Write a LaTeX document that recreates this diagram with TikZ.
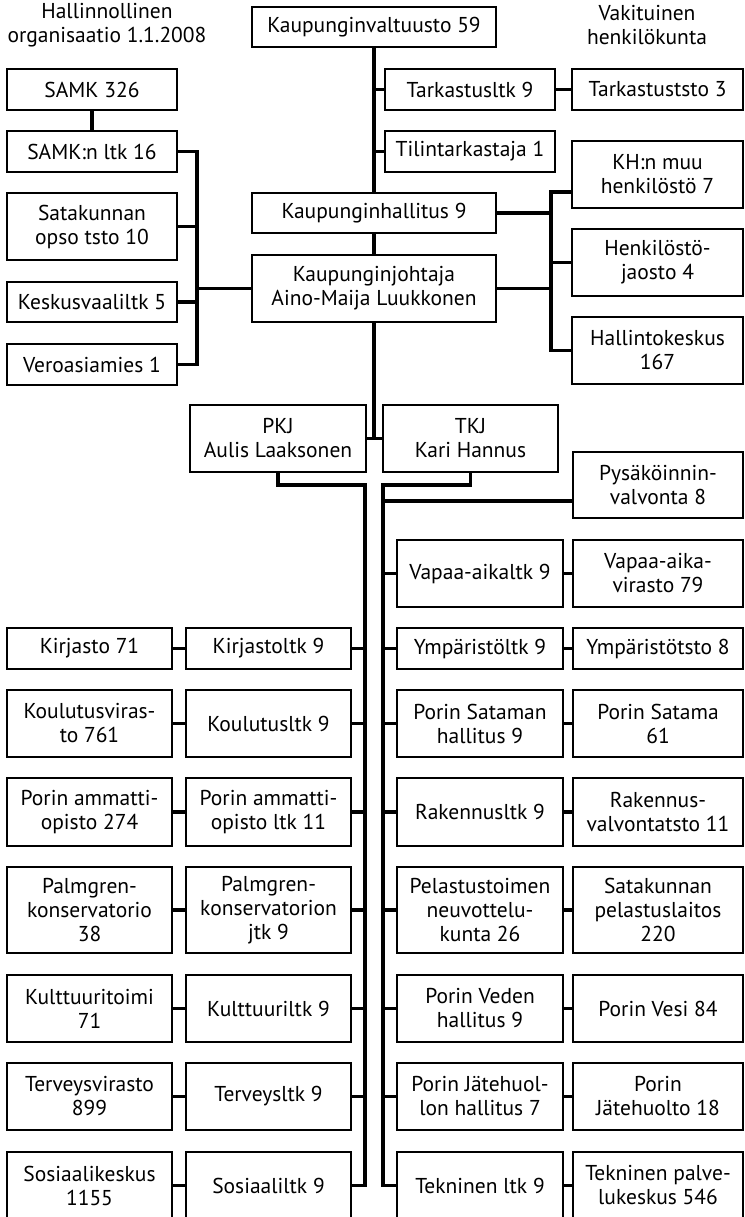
\documentclass[tikz,border=0pt]{standalone}
\usepackage{fontspec}
\setmainfont{PT Sans}
\begin{document}
\begin{tikzpicture}[x=1pt,y=-1pt,
  box/.style={draw=black, line width=1.3pt, fill=white, inner sep=0pt, outer sep=0pt, align=center, font=\fontsize{21.5}{24}\selectfont},
  conn/.style={draw=black, line width=3.2pt, line join=miter},
  ttl/.style={align=center, inner sep=0pt, font=\fontsize{21.5}{24}\selectfont}]
\useasboundingbox (0,0) rectangle (744,1217);
\newcommand\bx[6]{\node[box, minimum width={#4-#2}, minimum height={#5-#3}] (#1) at ({(#2+#4)/2},{(#3+#5)/2}) {#6};}
% titles
\node[ttl] (t1) at (107,25) {Hallinnollinen\\organisaatio 1.1.2008};
\node[ttl] (t2) at (647,25) {Vakituinen\\henkilökunta};
% top boxes
\bx{kv}{252}{7}{496}{47}{Kaupunginvaltuusto 59}
\bx{tar}{385}{69}{555}{110}{Tarkastusltk 9}
\bx{tarto}{572}{69}{743}{110}{Tarkastuststo 3}
\bx{tili}{385}{131}{555}{172}{Tilintarkastaja 1}
\bx{kh}{252}{193}{496}{233}{Kaupunginhallitus 9}
\bx{kj}{252}{255}{496}{322}{Kaupunginjohtaja\\Aino-Maija Luukkonen}
\bx{khmuu}{572}{141}{743}{208}{KH:n muu\\henkilöstö 7}
\bx{hj}{572}{229}{743}{296}{Henkilöstö-\\jaosto 4}
\bx{hk}{572}{317}{743}{384}{Hallintokeskus\\167}
\bx{samk}{7}{69}{177}{110}{SAMK 326}
\bx{samkltk}{7}{131}{177}{172}{SAMK:n ltk 16}
\bx{opso}{7}{193}{177}{260}{Satakunnan\\opso tsto 10}
\bx{kesk}{7}{282}{177}{322}{Keskusvaaliltk 5}
\bx{vero}{7}{344}{177}{385}{Veroasiamies 1}
\bx{pkj}{190}{405}{366}{472}{PKJ\\Aulis Laaksonen}
\bx{tkj}{383}{405}{558}{472}{TKJ\\Kari Hannus}
\bx{pys}{573}{452}{743}{518}{Pysäköinnin-\\valvonta 8}
% right column
\bx{vapltk}{397}{540}{563}{607}{Vapaa-aikaltk 9}
\bx{vap}{573}{540}{743}{607}{Vapaa-aika-\\virasto 79}
\bx{ympltk}{397}{628}{563}{669}{Ympäristöltk 9}
\bx{ymp}{573}{628}{743}{669}{Ympäristötsto 8}
\bx{satltk}{397}{690}{563}{757}{Porin Sataman\\hallitus 9}
\bx{sat}{573}{690}{743}{757}{Porin Satama\\61}
\bx{rakltk}{397}{778}{563}{846}{Rakennusltk 9}
\bx{rak}{573}{778}{743}{846}{Rakennus-\\valvontatsto 11}
\bx{pelltk}{397}{867}{563}{953}{Pelastustoimen\\neuvottelu-\\kunta 26}
\bx{pel}{573}{867}{743}{953}{Satakunnan\\pelastuslaitos\\220}
\bx{vesltk}{397}{975}{563}{1042}{Porin Veden\\hallitus 9}
\bx{ves}{573}{975}{743}{1042}{Porin Vesi 84}
\bx{jatltk}{397}{1063}{563}{1130}{Porin Jätehuol-\\lon hallitus 7}
\bx{jat}{573}{1063}{743}{1130}{Porin\\Jätehuolto 18}
\bx{tekltk}{397}{1152}{563}{1219}{Tekninen ltk 9}
\bx{tek}{573}{1152}{743}{1219}{Tekninen palve-\\lukeskus 546}
% left column
\bx{kirj}{7}{628}{172}{669}{Kirjasto 71}
\bx{kirjltk}{186}{628}{351}{669}{Kirjastoltk 9}
\bx{kou}{7}{690}{172}{757}{Koulutusviras-\\to 761}
\bx{koultk}{186}{690}{351}{757}{Koulutusltk 9}
\bx{amm}{7}{778}{172}{846}{Porin ammatti-\\opisto 274}
\bx{ammltk}{186}{778}{351}{846}{Porin ammatti-\\opisto ltk 11}
\bx{pal}{7}{867}{172}{953}{Palmgren-\\konservatorio\\38}
\bx{palltk}{186}{867}{351}{953}{Palmgren-\\konservatorion\\jtk 9}
\bx{kul}{7}{975}{172}{1042}{Kulttuuritoimi\\71}
\bx{kulltk}{186}{975}{351}{1042}{Kulttuuriltk 9}
\bx{ter}{7}{1063}{172}{1130}{Terveysvirasto\\899}
\bx{terltk}{186}{1063}{351}{1130}{Terveysltk 9}
\bx{sos}{7}{1152}{172}{1219}{Sosiaalikeskus\\1155}
\bx{sosltk}{186}{1152}{351}{1219}{Sosiaaliltk 9}
% helper coordinates
\coordinate (lbus) at (197,0);
\coordinate (rbus) at (551,0);
\coordinate (y192) at (0,192);
\coordinate (y501) at (0,501);
\coordinate (jtop) at (374,438.5);
\coordinate (lb2) at (365,485);
\coordinate (rb2) at (383,485);
% top connectors
\draw[conn] (kv.south) -- (tar.west -| kv.south) -- (tili.west -| kv.south) -- (kh.north);
\draw[conn] (tar.west) -- (tar.west -| kv.south);
\draw[conn] (tili.west) -- (tili.west -| kv.south);
\draw[conn] (tar.east) -- (tarto.west);
\draw[conn] (kh.south) -- (kj.north);
\draw[conn] (kj.south) -- (jtop);
\draw[conn] (pkj.east) -- (tkj.west);
\draw[conn] (samk.south) -- (samkltk.north);
\draw[conn] (samkltk.east) -| (vero.east -| lbus) -- (vero.east);
\draw[conn] (opso.east) -- (opso.east -| lbus);
\draw[conn] (kesk.east) -- (kesk.east -| lbus);
\draw[conn] (kj.west) -- (kj.west -| lbus);
\draw[conn] (khmuu.west |- y192) -| (hk.west -| rbus) -- (hk.west);
\draw[conn] (hj.west) -- (hj.west -| rbus);
\draw[conn] (kh.east) -- (kh.east -| rbus);
\draw[conn] (kj.east) -- (kj.east -| rbus);
% lower buses
\draw[conn] (pkj.south) |- (lb2) -- (lb2 |- sosltk.east) -- (sosltk.east);
\draw[conn] (tkj.south) |- (rb2) -- (rb2 |- tekltk.west) -- (tekltk.west);
\draw[conn] (pys.west |- y501) -- (rb2 |- y501);
% right stubs
\foreach \a/\b in {vapltk/vap, ympltk/ymp, satltk/sat, rakltk/rak, pelltk/pel, vesltk/ves, jatltk/jat}{
  \draw[conn] (\a.west) -- (\a.west -| rb2);
}
\foreach \a/\b in {vapltk/vap, ympltk/ymp, satltk/sat, rakltk/rak, pelltk/pel, vesltk/ves, jatltk/jat, tekltk/tek}{
  \draw[conn] (\a.east) -- (\b.west);
}
% left stubs
\foreach \a/\b in {kirjltk/kirj, koultk/kou, ammltk/amm, palltk/pal, kulltk/kul, terltk/ter}{
  \draw[conn] (\a.east) -- (\a.east -| lb2);
}
\foreach \a/\b in {kirjltk/kirj, koultk/kou, ammltk/amm, palltk/pal, kulltk/kul, terltk/ter, sosltk/sos}{
  \draw[conn] (\b.east) -- (\a.west);
}
\end{tikzpicture}
\end{document}
